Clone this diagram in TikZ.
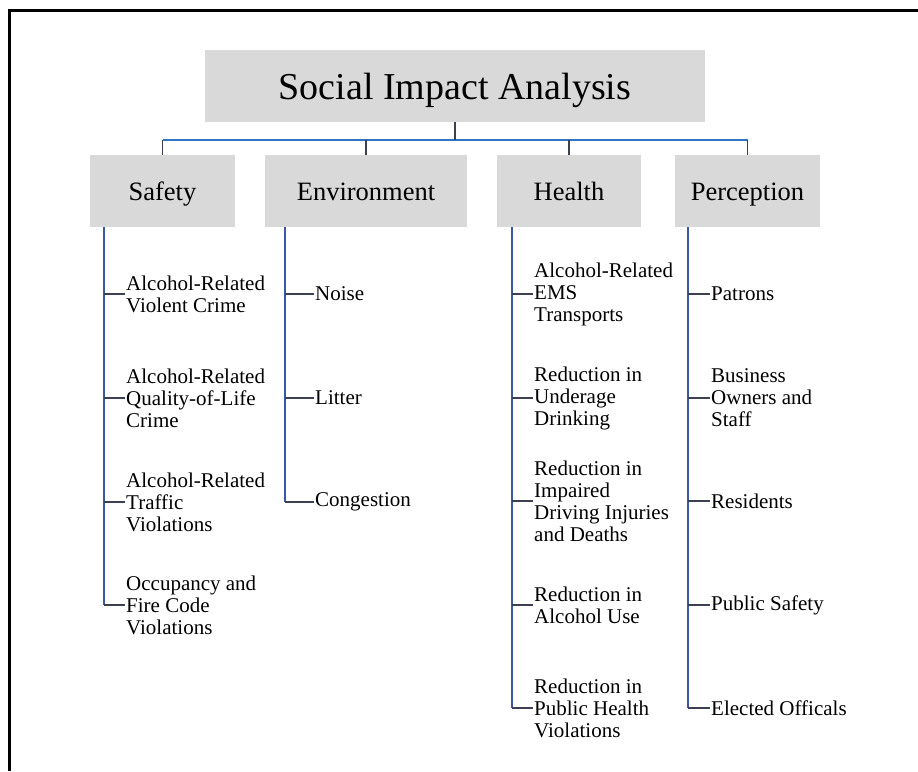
\documentclass[tikz,border=0pt]{standalone}
\usepackage{fontspec}
\setmainfont{Liberation Serif}
\definecolor{boxgray}{RGB}{217,217,217}
\definecolor{busblue}{RGB}{46,117,196}
\definecolor{vblue}{RGB}{58,88,170}
\definecolor{stubgray}{RGB}{60,64,80}
\tikzset{
  titlebox/.style={fill=boxgray, draw=none, minimum width=500pt, minimum height=72pt, inner sep=0pt, text height=26pt, text depth=0pt, font=\fontsize{38}{40}\selectfont},
  catbox/.style={fill=boxgray, draw=none, minimum height=72pt, inner sep=0pt, text height=18pt, text depth=0pt, font=\fontsize{26.5}{28}\selectfont},
  item/.style={anchor=west, align=left, inner sep=1pt, font=\fontsize{21}{22}\selectfont},
  busline/.style={draw=busblue, line width=1.6pt},
  dropline/.style={draw=stubgray, line width=1.2pt},
  vline/.style={draw=vblue, line width=1.2pt},
  stubline/.style={draw=stubgray, line width=1.1pt},
}
\begin{document}
\begin{tikzpicture}[x=1pt,y=-1pt]
\useasboundingbox (0,0) rectangle (918,771);
\fill[white] (0,0) rectangle (918,771);
% outer frame
\draw[line width=3pt, black] (9.5,771) -- (9.5,10) -- (918,10);
% title and categories
\node[titlebox] (t) at (455,86) {Social Impact Analysis};
\node[catbox, minimum width=145pt] (s) at (162.5,191) {Safety};
\node[catbox, minimum width=202pt] (e) at (366,191) {Environment};
\node[catbox, minimum width=144pt] (h) at (569,191) {Health};
\node[catbox, minimum width=145pt] (p) at (747.5,191) {Perception};
% bus
\coordinate (busL) at (162.5,140);
\coordinate (busR) at (747.5,140);
\draw[busline] (busL) -- (busR);
\draw[dropline] (t.south) -- (t.south |- busL);
\draw[dropline] (s.north |- busL) -- (s.north);
\draw[dropline] (e.north |- busL) -- (e.north);
\draw[dropline] (h.north |- busL) -- (h.north);
\draw[dropline] (p.north |- busL) -- (p.north);
% column spine coordinates
\coordinate (sv) at (104,227);
\coordinate (ev) at (285,227);
\coordinate (hv) at (512,227);
\coordinate (pv) at (688,227);
% Safety items
\node[item] (s1) at (125,294) {Alcohol-Related\\Violent Crime};
\node[item] (s2) at (125,398) {Alcohol-Related\\Quality-of-Life\\Crime};
\node[item] (s3) at (125,502) {Alcohol-Related\\Traffic\\Violations};
\node[item] (s4) at (125,605) {Occupancy and\\Fire Code\\Violations};
% Environment items
\node[item] (e1) at (314,294) {Noise};
\node[item] (e2) at (314,398) {Litter};
\node[item] (e3) at (314,502) {Congestion};
% Health items
\node[item] (h1) at (533,294) {Alcohol-Related\\EMS\\Transports};
\node[item] (h2) at (533,398) {Reduction in\\Underage\\Drinking};
\node[item] (h3) at (533,501) {Reduction in\\Impaired\\Driving Injuries\\and Deaths};
\node[item] (h4) at (533,605) {Reduction in\\Alcohol Use};
\node[item] (h5) at (533,708) {Reduction in\\Public Health\\Violations};
% Perception items
\node[item] (p1) at (710,294) {Patrons};
\node[item] (p2) at (710,398) {Business\\Owners and\\Staff};
\node[item] (p3) at (710,501) {Residents};
\node[item] (p4) at (710,605) {Public Safety};
\node[item] (p5) at (710,708) {Elected Officals};
% spines
\draw[vline] (sv) -- (sv |- s4.west);
\draw[vline] (ev) -- (ev |- e3.west);
\draw[vline] (hv) -- (hv |- h5.west);
\draw[vline] (pv) -- (pv |- p5.west);
% stubs
\foreach \n in {s1,s2,s3,s4} \draw[stubline] (sv |- \n.west) -- (\n.west);
\foreach \n in {e1,e2,e3} \draw[stubline] (ev |- \n.west) -- (\n.west);
\foreach \n in {h1,h2,h3,h4,h5} \draw[stubline] (hv |- \n.west) -- (\n.west);
\foreach \n in {p1,p2,p3,p4,p5} \draw[stubline] (pv |- \n.west) -- (\n.west);
\end{tikzpicture}
\end{document}
